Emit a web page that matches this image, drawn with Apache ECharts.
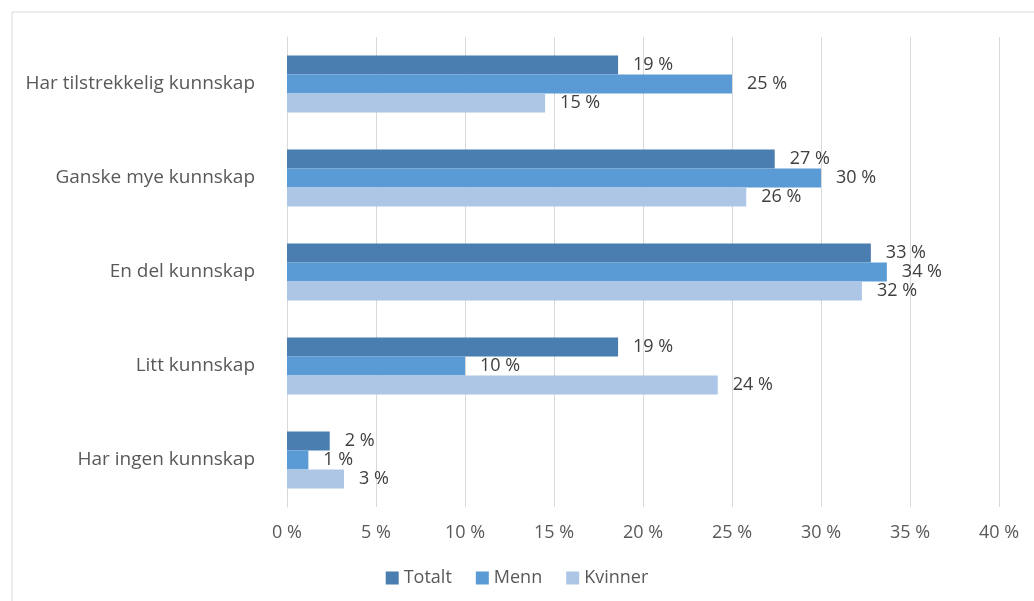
<!DOCTYPE html>
<html>
<head>
<meta charset="utf-8">
<script src="https://cdn.jsdelivr.net/npm/echarts@6/dist/echarts.min.js"></script>
<style>
  html, body { margin: 0; padding: 0; background: #fff; }
  #chart { width: 1034px; height: 601px; }
</style>
</head>
<body>
<div id="chart"></div>
<script>
const categories = ['Har tilstrekkelig kunnskap', 'Ganske mye kunnskap', 'En del kunnskap', 'Litt kunnskap', 'Har ingen kunnskap']
const totalt = [18.6, 27.4, 32.8, 18.6, 2.4]
const menn = [25.0, 30.0, 33.7, 10.0, 1.2]
const kvinner = [14.5, 25.8, 32.3, 24.2, 3.2]
const xTicks = { min: 0, max: 40, interval: 5 }

const colors = ['#4a7db0', '#5b9bd5', '#adc6e6']
const font = '"Open Sans", sans-serif'

const label = {
  show: true,
  position: 'right',
  distance: 15,
  fontFamily: font,
  fontSize: 18,
  color: '#404040',
  formatter: p => Math.round(p.value) + ' %'
}

const makeSeries = (name, data) => ({
  name,
  type: 'bar',
  data,
  barWidth: 19,
  barGap: '0%',
  label
})

const option = {
  animation: false,
  color: colors,
  graphic: [{
    type: 'rect',
    shape: { x: 12, y: 12, width: 1040, height: 600 },
    style: { fill: 'none', stroke: '#d9d9d9', lineWidth: 1 },
    silent: true
  }],
  legend: {
    top: 564,
    left: 'center',
    itemWidth: 13,
    itemHeight: 13,
    itemGap: 24,
    icon: 'rect',
    textStyle: { fontFamily: font, fontSize: 18, color: '#595959' },
    data: ['Totalt', 'Menn', 'Kvinner']
  },
  grid: {
    left: 287,
    right: 35,
    top: 37,
    bottom: 94
  },
  xAxis: {
    type: 'value',
    min: xTicks.min,
    max: xTicks.max,
    interval: xTicks.interval,
    axisLine: { show: false },
    axisTick: { show: false },
    splitLine: { lineStyle: { color: '#d9d9d9', width: 1 } },
    axisLabel: {
      formatter: '{value} %',
      margin: 17,
      fontFamily: font,
      fontSize: 18,
      color: '#595959'
    }
  },
  yAxis: {
    type: 'category',
    inverse: true,
    data: categories,
    axisTick: { show: false },
    axisLine: { show: true, lineStyle: { color: '#d9d9d9' } },
    axisLabel: {
      margin: 32,
      fontFamily: font,
      fontSize: 19,
      color: '#595959'
    }
  },
  series: [
    makeSeries('Totalt', totalt),
    makeSeries('Menn', menn),
    makeSeries('Kvinner', kvinner)
  ]
}

const chart = echarts.init(document.getElementById('chart'))
chart.setOption(option)
</script>
</body>
</html>
